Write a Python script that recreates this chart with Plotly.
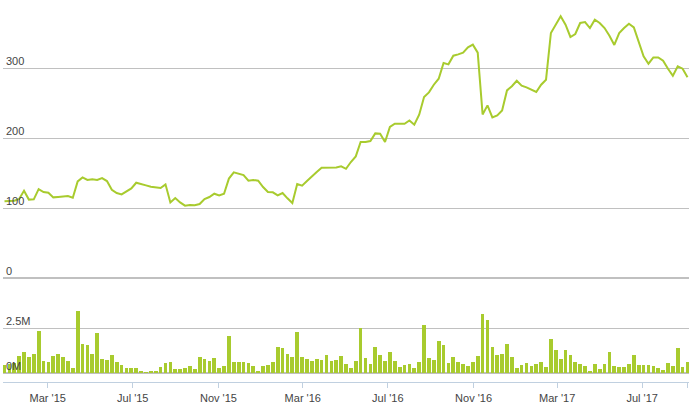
import pandas as pd
import plotly.graph_objects as go

# Weekly dates (Mondays)
start_date = "2014-12-29"
n_weeks = 141
dates = pd.date_range(start_date, periods=n_weeks, freq="7D")

price = [
    109.5, 110, 110.5, 113, 124.5, 112, 112.3, 127, 122.8, 121.9,
    115.2, 115.7, 116.6, 117, 114.7, 138, 143.7, 140, 140.9, 140,
    142.8, 138.5, 126.1, 121.3, 119.5, 123.8, 128, 136.1, 133.8, 132.3,
    130.4, 129, 128.6, 133.8, 108, 114.3, 108, 103.3, 104.3, 104,
    105.7, 112.8, 115.7, 120.4, 118, 120.4, 142, 150.9, 149.5, 147.1,
    139, 140, 139, 130, 122.9, 122.4, 118, 121.4, 113.8, 107.1,
    134.3, 131.9, 138.6, 145.7, 151.4, 157.6, 158, 158.6, 158, 159.5,
    156, 165.7, 173.7, 194.3, 194.3, 195.7, 206.6, 206.1, 194.3, 215.7,
    220.4, 220.4, 220.4, 225.1, 219, 233.3, 258.6, 265.2, 276.1, 284.7,
    307.1, 305.2, 317.6, 319.5, 321.9, 329.5, 333.3, 321.9, 233.7, 246.6,
    229.4, 232.3, 239.4, 268, 274, 281.7, 274.7, 272.3, 269, 265.7,
    276.1, 283.3, 350, 361.9, 373.8, 361.9, 344.3, 348.6, 364.3, 365.7,
    357.1, 369, 364.3, 357.1, 346.1, 332.9, 350, 357.1, 363.3, 358.1,
    338, 316.6, 306.1, 315.1, 315.1, 310.4, 299, 289, 302.4, 299,
    286.7,
]

volume_m = [
    0.45, 0.5, 0.56, 0.93, 1.15, 0.87, 1.04, 2.31, 0.69, 0.59,
    0.93, 1.04, 0.87, 0.65, 0.26, 3.43, 1.63, 1.57, 1.07, 2.2,
    0.76, 0.70, 0.98, 0.59, 0.46, 0.28, 0.26, 0.26, 0.09, 0.04,
    0.13, 0.09, 0.35, 0.54, 0.59, 0.2, 0.2, 0.26, 0.41, 0.2,
    0.87, 0.76, 0.65, 0.81, 0.26, 0.41, 2.04, 0.59, 0.59, 0.59,
    0.54, 0.41, 0.13, 0.37, 0.43, 0.59, 1.43, 1.37, 1.04, 0.87,
    2.26, 0.87, 0.76, 0.65, 0.76, 0.70, 0.98, 0.65, 0.70, 0.93,
    0.52, 0.30, 0.69, 2.48, 0.85, 0.52, 1.46, 1.02, 0.69, 1.19,
    0.69, 0.35, 0.46, 0.52, 0.30, 0.63, 2.69, 0.85, 0.74, 1.80,
    1.57, 0.57, 0.91, 0.63, 0.52, 0.41, 0.63, 0.96, 3.30, 2.96,
    1.46, 1.02, 1.07, 1.63, 0.91, 0.30, 0.46, 0.57, 0.41, 0.52,
    0.63, 0.35, 1.91, 1.30, 0.80, 1.30, 1.02, 0.63, 0.52, 0.41,
    0.07, 0.52, 0.24, 0.52, 1.19, 0.41, 0.35, 0.35, 0.52, 1.02,
    0.46, 0.46, 0.46, 0.41, 0.30, 0.19, 0.57, 0.41, 1.41, 0.35,
    0.63,
]
volume = [v * 1e6 for v in volume_m]

tick_dates = ["2015-03-01", "2015-07-01", "2015-11-01", "2016-03-01",
              "2016-07-01", "2016-11-01", "2017-03-01", "2017-07-01"]
tick_labels = ["Mar '15", "Jul '15", "Nov '15", "Mar '16",
               "Jul '16", "Nov '16", "Mar '17", "Jul '17"]
price_ticks = [0, 100, 200, 300]
volume_ticks = [0, 2.5e6, 5e6]
volume_tick_labels = ["0M", "2.5M", ""]

GREEN = "#A8CB2E"
GRID = "#C0C0C0"
AXIS = "#C0D0E0"
FONT = "Liberation Sans, Arial, sans-serif"

W, H = 690, 404
ML, MR = 3, 1
px_per_day = 0.697
half = pd.Timedelta(days=1.5 / px_per_day)
x_range = [dates[0] - half, dates[-1] + half]


def frac(py):
    return 1 - py / H


p0_px = 278.0
p_scale = 0.7
price_top = p0_px / p_scale
v0_px = 373.3
v_top_px = 283.3
v_bot_px = 382.3

fig = go.Figure()
fig.add_trace(go.Scatter(
    x=dates, y=price, mode="lines",
    line=dict(color=GREEN, width=2),
    xaxis="x", yaxis="y", hoverinfo="skip", showlegend=False,
))
fig.add_trace(go.Bar(
    x=dates, y=volume, marker=dict(color=GREEN, line=dict(width=0)),
    width=7 * 24 * 3600 * 1000 * 0.76,
    xaxis="x2", yaxis="y2", hoverinfo="skip", showlegend=False,
))

fig.update_layout(
    width=W, height=H,
    margin=dict(l=ML, r=MR, t=0, b=0),
    paper_bgcolor="white", plot_bgcolor="white",
    font=dict(family=FONT, size=11, color="#444"),
    bargap=0,
    xaxis=dict(
        range=x_range, domain=[0, 1], anchor="y",
        showticklabels=False, showgrid=False, zeroline=False,
        ticks="", showline=False,
    ),
    xaxis2=dict(
        range=x_range, domain=[0, 1], anchor="y2", matches="x",
        tickmode="array",
        tickvals=[pd.Timestamp(d) for d in tick_dates] + [dates[-1]],
        ticktext=tick_labels + [""],
        ticks="outside", ticklen=5, tickcolor=AXIS, tickwidth=1,
        showline=True, linecolor=AXIS, linewidth=1,
        showgrid=False, zeroline=False,
        tickfont=dict(family=FONT, size=11, color="#444"),
    ),
    yaxis=dict(
        domain=[frac(p0_px), 1], range=[0, price_top], anchor="x",
        tickmode="array", tickvals=price_ticks[1:],
        showticklabels=False, showgrid=True, gridcolor=GRID, gridwidth=1,
        zeroline=True, zerolinecolor=GRID, zerolinewidth=2,
        showline=False,
    ),
    yaxis2=dict(
        domain=[frac(v_bot_px), frac(v_top_px)],
        range=[-(v_bot_px - v0_px) / 18.0 * 1e6, (v0_px - v_top_px) / 18.0 * 1e6],
        anchor="x2",
        tickmode="array", tickvals=volume_ticks[1:],
        showticklabels=False, showgrid=True, gridcolor=GRID, gridwidth=1,
        zeroline=True, zerolinecolor=GRID, zerolinewidth=2,
        showline=False,
    ),
)

annotations = []
for v in price_ticks:
    annotations.append(dict(
        x=0, xref="paper", xanchor="left", xshift=1,
        y=v, yref="y", yanchor="bottom", yshift=-1,
        text=str(v), showarrow=False,
        font=dict(family=FONT, size=11, color="#444"),
    ))
for v, t in zip(volume_ticks, volume_tick_labels):
    if t:
        annotations.append(dict(
            x=0, xref="paper", xanchor="left", xshift=1,
            y=v, yref="y2", yanchor="bottom", yshift=-1,
            text=t, showarrow=False,
            font=dict(family=FONT, size=11, color="#444"),
        ))
fig.update_layout(annotations=annotations)

fig.write_html(
    "out.html",
    config={"displayModeBar": False},
    post_script="document.body.style.margin='0';document.body.style.overflow='hidden';",
)
